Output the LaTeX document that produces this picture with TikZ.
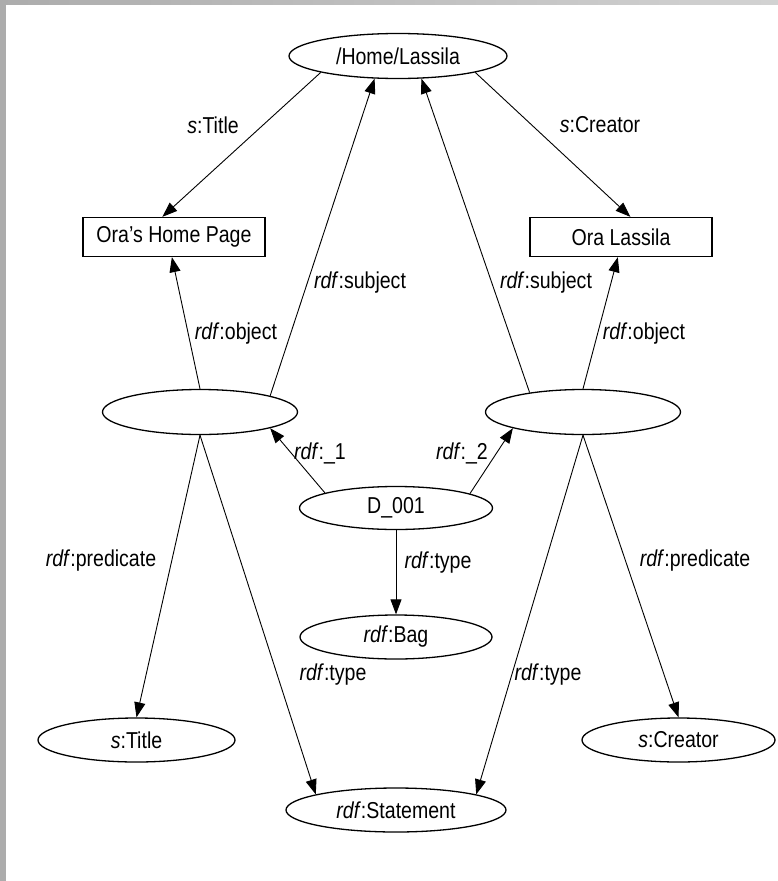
\documentclass[tikz,border=0pt]{standalone}
\usepackage{fontspec}
\setmainfont{Liberation Sans}[FakeStretch=0.85]
\usepackage{tikz}
\usetikzlibrary{shapes.geometric,arrows.meta}
\newcommand{\rdfns}{\textit{rdf}}

\begin{document}
\begin{tikzpicture}[x=1pt,y=-1pt,
  every node/.style={font=\fontsize{23}{27}\selectfont},
  res/.style={ellipse,draw,line width=1.3pt,inner sep=0pt,minimum height=45pt},
  lit/.style={rectangle,draw,line width=1.3pt,inner sep=0pt,minimum width=182pt,minimum height=39pt},
  link/.style={-{Triangle[length=15pt,width=11pt]},line width=0.9pt}]
\useasboundingbox (0,0) rectangle (778,881);
\fill[gray!65] (0,0) rectangle (778,881);
\shade[left color=gray!65,right color=gray!35] (0,0) rectangle (778,5);
\fill[white] (6,5) rectangle (778,881);

\node[res,minimum width=218pt] (home) at (398,56) {/Home/Lassila};
\node[lit] (ohp) at (174,237) {Ora's Home Page};
\node[lit] (ola) at (621,237) {Ora Lassila};
\node[res,minimum width=195pt] (st1) at (200,412) {};
\node[res,minimum width=195pt] (st2) at (583,412) {};
\node[res,minimum width=193pt,minimum height=43pt] (bag1) at (396,508) {D\_001};
\node[res,minimum width=192pt,minimum height=44pt] (bagt) at (396,637) {\rdfns:Bag};
\node[res,minimum width=197pt,minimum height=44pt] (ptitle) at (136.5,740) {\textit{s}:Title};
\node[res,minimum width=193pt,minimum height=44pt] (pcreator) at (678.5,740) {\textit{s}:Creator};
\node[res,minimum width=220pt,minimum height=44pt] (stmt) at (396,810) {\rdfns:Statement};

\draw[link] (home.192) -- (ohp.120);
\draw[link] (home.348) -- (ola.65);
\draw[link] (st1.13) -- (home.224);
\draw[link] (st2.160) -- (home.316);
\draw[link] (st1.north) -- (ohp.-96);
\draw[link] (st2.north) -- (ola.-99);
\draw[link] (bag1.168) -- (st1.-13);
\draw[link] (bag1.11) -- (st2.193);
\draw[link] (bag1) -- (bagt);
\draw[link] (st1.south) -- (ptitle.north);
\draw[link] (st1.south) -- (stmt.169);
\draw[link] (st2.south) -- (stmt.11);
\draw[link] (st2.south) -- (pcreator.north);

\node (l1) at (213,125) {\textit{s}:Title};
\node (l2) at (600,125) {\textit{s}:Creator};
\node (l3) at (360,283) {\rdfns:subject};
\node (l4) at (546,283) {\rdfns:subject};
\node (l5) at (236,334) {\rdfns:object};
\node (l6) at (644,334) {\rdfns:object};
\node (l7) at (320,453) {\rdfns:\_1};
\node (l8) at (462,453) {\rdfns:\_2};
\node (l9) at (438,563) {\rdfns:type};
\node (l10) at (101,561) {\rdfns:predicate};
\node (l11) at (695,561) {\rdfns:predicate};
\node (l12) at (333,675) {\rdfns:type};
\node (l13) at (548,675) {\rdfns:type};
\end{tikzpicture}
\end{document}
